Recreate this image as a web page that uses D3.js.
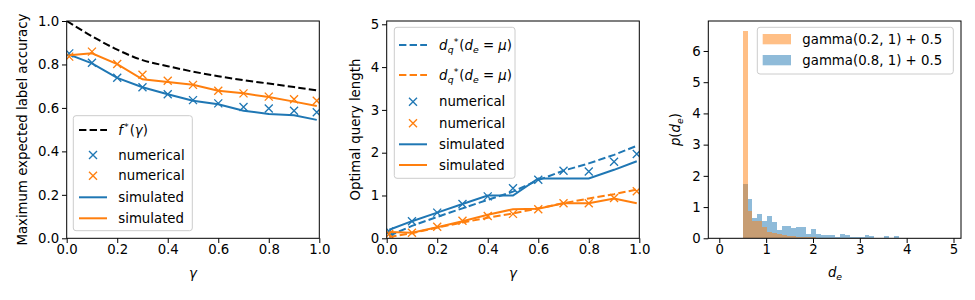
<!DOCTYPE html>
<html>
<head>
<meta charset="utf-8">
<script src="https://cdn.jsdelivr.net/npm/d3@7"></script>
<style>
body { margin: 0; background: #fff; }
svg { font-family: "DejaVu Sans", sans-serif; }
</style>
</head>
<body>
<svg id="fig" width="975" height="300"></svg>
<script>
// gamma values used for the simulations
var gammas = [0.01, 0.1, 0.2, 0.3, 0.4, 0.5, 0.6, 0.7, 0.8, 0.9, 0.99];

// left panel: max expected label accuracy
var fGamma = [0.0, 0.1, 0.2, 0.3, 0.4, 0.5, 0.6, 0.7, 0.8, 0.9, 1.0];
var fStar = [1.0, 0.93, 0.868, 0.82, 0.792, 0.767, 0.746, 0.728, 0.712, 0.696, 0.679];
var accNumBlue = [0.851, 0.808, 0.739, 0.695, 0.663, 0.636, 0.621, 0.604, 0.597, 0.587, 0.580];
var accNumOrange = [0.836, 0.859, 0.802, 0.753, 0.725, 0.706, 0.679, 0.667, 0.652, 0.640, 0.633];
var accSimBlue = [0.845, 0.805, 0.738, 0.695, 0.663, 0.633, 0.617, 0.587, 0.572, 0.566, 0.545];
var accSimOrange = [0.842, 0.851, 0.802, 0.732, 0.719, 0.707, 0.679, 0.667, 0.650, 0.629, 0.609];

// middle panel: optimal query length
var lenMuBlue = [0.06, 0.29, 0.5, 0.7, 0.9, 1.09, 1.36, 1.58, 1.75, 1.95, 2.16];
var lenMuOrange = [0.03, 0.12, 0.25, 0.37, 0.48, 0.58, 0.70, 0.82, 0.93, 1.03, 1.14];
var lenNumBlue = [0.16, 0.4, 0.6, 0.8, 0.98, 1.17, 1.37, 1.58, 1.56, 1.79, 1.97];
var lenNumOrange = [0.1, 0.13, 0.27, 0.41, 0.52, 0.57, 0.68, 0.82, 0.82, 0.94, 1.1];
var lenSimBlue = [0.2, 0.4, 0.6, 0.8, 1.0, 1.0, 1.4, 1.4, 1.4, 1.6, 1.8];
var lenSimOrange = [0.15, 0.13, 0.26, 0.4, 0.55, 0.68, 0.69, 0.82, 0.82, 0.93, 0.82];

// right panel: histograms of d_e (density)
var binStart = 0.5;
var binWidth = 0.104;
var densBlue = [1.73, 1.26, 0.64, 0.78, 0.56, 0.71, 0.53, 0.27, 0.39, 0.39, 0.32, 0.35, 0.35, 0.14, 0.29, 0.14,
    0.10, 0.10, 0.10, 0.05, 0.13, 0.10, 0.03, 0.03, 0.03, 0.10, 0.06, 0.02, 0.02, 0.06, 0.02, 0.06];
var densOrange = [6.64, 0.86, 0.55, 0.55, 0.37, 0.21, 0.18, 0.14, 0.11, 0.08, 0.06, 0.05, 0.04, 0.03, 0.05, 0.02,
    0.02, 0.01, 0.02, 0.01, 0, 0.02, 0.01];

var histLabels = ["gamma(0.2, 1) + 0.5", "gamma(0.8, 1) + 0.5"];
var xTicks1 = [0, 0.2, 0.4, 0.6, 0.8, 1.0];
var yTicks1 = [0, 0.2, 0.4, 0.6, 0.8, 1.0];
var yTicks2 = [0, 1, 2, 3, 4, 5];
var xTicks3 = [0, 1, 2, 3, 4, 5];
var yTicks3 = [0, 1, 2, 3, 4, 5, 6];

// ============================================================================

var blue = "#1f77b4";
var orange = "#ff7f0e";
var fs = 13.3;
var lw = 2;
var dash = "7.4,3.2";
var top_ = 21, bottom = 238.3;
var svg = d3.select("#fig");

function makeAxes(x0, x1, xdom, ydom, xticks, yticks, xfmt, yfmt) {
    var x = d3.scaleLinear().domain(xdom).range([x0, x1]);
    var y = d3.scaleLinear().domain(ydom).range([bottom, top_]);
    var g = svg.append("g");
    var clipId = "clip" + Math.round(x0);
    svg.append("clipPath").attr("id", clipId)
        .append("rect").attr("x", x0).attr("y", top_).attr("width", x1 - x0).attr("height", bottom - top_);
    var plot = g.append("g").attr("clip-path", "url(#" + clipId + ")");
    var ax = g.append("g").attr("transform", "translate(0," + bottom + ")")
        .call(d3.axisBottom(x).tickValues(xticks).tickFormat(xfmt).tickSize(4.7).tickPadding(1.5).tickSizeOuter(0));
    var ay = g.append("g").attr("transform", "translate(" + x0 + ",0)")
        .call(d3.axisLeft(y).tickValues(yticks).tickFormat(yfmt).tickSize(4.7).tickPadding(2.8).tickSizeOuter(0));
    [ax, ay].forEach(function (a) {
        a.select(".domain").remove();
        a.selectAll("text").attr("font-size", fs).attr("font-family", "DejaVu Sans").attr("fill", "#000");
        a.selectAll("line").attr("stroke", "#000").attr("stroke-width", 1);
    });
    g.append("rect").attr("x", x0).attr("y", top_).attr("width", x1 - x0).attr("height", bottom - top_)
        .attr("fill", "none").attr("stroke", "#000").attr("stroke-width", 1);
    return { x: x, y: y, g: g, plot: plot };
}

function drawLine(p, xs, ys, color, dashed, curve) {
    var line = d3.line().x((d) => p.x(d[0])).y((d) => p.y(d[1]));
    if (curve) line.curve(curve);
    p.plot.append("path")
        .datum(xs.map((v, i) => [v, ys[i]]))
        .attr("d", line)
        .attr("fill", "none")
        .attr("stroke", color)
        .attr("stroke-width", lw)
        .attr("stroke-dasharray", dashed ? dash : null);
}

function crossPath(cx, cy, r) {
    return "M" + (cx - r) + "," + (cy - r) + "L" + (cx + r) + "," + (cy + r) +
        "M" + (cx - r) + "," + (cy + r) + "L" + (cx + r) + "," + (cy - r);
}

function drawCrosses(p, xs, ys, color) {
    p.plot.selectAll(null)
        .data(xs.map((v, i) => [v, ys[i]]))
        .enter()
        .append("path")
        .attr("d", (d) => crossPath(p.x(d[0]), p.y(d[1]), 4))
        .attr("stroke", color)
        .attr("stroke-width", 1.33)
        .attr("fill", "none");
}

function legendBox(x0, y0, w, h) {
    svg.append("rect").attr("x", x0).attr("y", y0).attr("width", w).attr("height", h)
        .attr("rx", 2.7).attr("fill", "#fff").attr("fill-opacity", 0.8)
        .attr("stroke", "#cccccc").attr("stroke-width", 1);
}

function legendLine(x0, y, color, dashed) {
    svg.append("line").attr("x1", x0).attr("x2", x0 + 28).attr("y1", y).attr("y2", y)
        .attr("stroke", color).attr("stroke-width", lw)
        .attr("stroke-dasharray", dashed ? dash : null);
}

function legendCross(x0, y, color) {
    svg.append("path").attr("d", crossPath(x0 + 14, y, 4))
        .attr("stroke", color).attr("stroke-width", 1.33).attr("fill", "none");
}

function legendText(x, y, str) {
    return svg.append("text").attr("x", x).attr("y", y).attr("dy", "0.35em")
        .attr("font-size", fs).text(str);
}

// math-ish label: parts = [text, italic, dy, size factor, dx]
function mathText(x, y, parts, anchor, rotate) {
    var t = svg.append("text").attr("font-size", fs)
        .attr("text-anchor", anchor || "start");
    if (rotate) t.attr("transform", "translate(" + x + "," + y + ") rotate(-90)");
    else t.attr("x", x).attr("y", y);
    parts.forEach(function (p) {
        t.append("tspan")
            .attr("font-style", p[1] ? "italic" : null)
            .attr("dy", p[2] || 0)
            .attr("dx", p[4] || 0)
            .attr("font-size", p[3] ? fs * p[3] : null)
            .text(p[0]);
    });
    return t;
}

// ---------------------------------------------------------------------------
// left panel

var p1 = makeAxes(66.7, 319.3, [0, 1], [0, 1], xTicks1, yTicks1, d3.format(".1f"), d3.format(".1f"));
drawLine(p1, fGamma, fStar, "#000", true, d3.curveMonotoneX);
drawCrosses(p1, gammas, accNumBlue, blue);
drawCrosses(p1, gammas, accNumOrange, orange);
drawLine(p1, gammas, accSimBlue, blue, false);
drawLine(p1, gammas, accSimOrange, orange, false);

svg.append("text").attr("transform", "translate(26.5,129.6) rotate(-90)")
    .attr("text-anchor", "middle").attr("font-size", fs).text("Maximum expected label accuracy");
mathText(193, 277.5, [["γ", true]], "middle");

legendBox(73.3, 115.7, 119, 115);
legendLine(79, 130, "#000", true);
mathText(118.3, 134.5, [["f", true], ["*", false, -5, 0.7, 1], ["(", false, 5, null, 1], ["γ", true], [")", false]]);
legendCross(79, 155, blue);
legendText(118.3, 155, "numerical");
legendCross(79, 175.7, orange);
legendText(118.3, 175.7, "numerical");
legendLine(79, 197.3, blue, false);
legendText(118.3, 197.3, "simulated");
legendLine(79, 218.3, orange, false);
legendText(118.3, 218.3, "simulated");

// ---------------------------------------------------------------------------
// middle panel

var p2 = makeAxes(386.7, 639.3, [0, 1], [0, 5.077], xTicks1, yTicks2, d3.format(".1f"), d3.format("d"));
drawLine(p2, gammas, lenMuBlue, blue, true);
drawLine(p2, gammas, lenMuOrange, orange, true);
drawCrosses(p2, gammas, lenNumBlue, blue);
drawCrosses(p2, gammas, lenNumOrange, orange);
drawLine(p2, gammas, lenSimBlue, blue, false);
drawLine(p2, gammas, lenSimOrange, orange, false);

svg.append("text").attr("transform", "translate(359.5,129.6) rotate(-90)")
    .attr("text-anchor", "middle").attr("font-size", fs).text("Optimal query length");
mathText(513, 277.5, [["γ", true]], "middle");

legendBox(394.3, 27.3, 120.7, 151);
var dqParts = [["d", true], ["q", true, 3.5, 0.7, 0.3], ["*", false, -8.5, 0.7, 0], ["(", false, 5, null, 1],
    ["d", true], ["e", true, 3, 0.7], [" = ", false, -3], ["μ", true], [")", false]];
legendLine(399, 45, blue, true);
mathText(439, 49.5, dqParts);
legendLine(399, 75, orange, true);
mathText(439, 79.5, dqParts);
legendCross(399, 101.7, blue);
legendText(439, 101.7, "numerical");
legendCross(399, 123.3, orange);
legendText(439, 123.3, "numerical");
legendLine(399, 144.3, blue, false);
legendText(439, 144.3, "simulated");
legendLine(399, 165, orange, false);
legendText(439, 165, "simulated");

// ---------------------------------------------------------------------------
// right panel

var p3 = makeAxes(708.3, 961, [-0.235, 5.16], [0, 6.96], xTicks3, yTicks3, d3.format("d"), d3.format("d"));

function drawHist(p, dens, color) {
    p.plot.selectAll(null)
        .data(dens)
        .enter()
        .append("rect")
        .attr("x", (d, i) => p.x(binStart + i * binWidth))
        .attr("width", (d, i) => p.x(binStart + (i + 1) * binWidth) - p.x(binStart + i * binWidth))
        .attr("y", (d) => p.y(d))
        .attr("height", (d) => p.y(0) - p.y(d))
        .attr("fill", color)
        .attr("fill-opacity", 0.5)
        .attr("shape-rendering", "crispEdges");
}
drawHist(p3, densBlue, blue);
drawHist(p3, densOrange, orange);

mathText(680, 129.6, [["p", true], ["(", false], ["d", true], ["e", true, 3, 0.7], [")", false, -3]], "middle", true);
mathText(835, 277, [["d", true], ["e", true, 3, 0.7]], "middle");

legendBox(757.3, 27.3, 196, 46.7);
svg.append("rect").attr("x", 762.7).attr("y", 34).attr("width", 28.3).attr("height", 10.3)
    .attr("fill", orange).attr("fill-opacity", 0.5);
legendText(802.3, 39.3, histLabels[0]);
svg.append("rect").attr("x", 762.7).attr("y", 55).attr("width", 28.3).attr("height", 10.3)
    .attr("fill", blue).attr("fill-opacity", 0.5);
legendText(802.3, 60, histLabels[1]);
</script>
</body>
</html>
